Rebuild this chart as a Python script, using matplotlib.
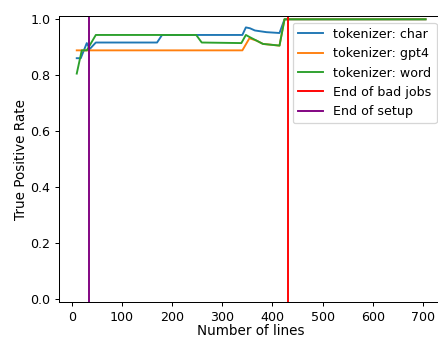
import matplotlib
matplotlib.use("Agg")
import matplotlib.pyplot as plt

# True positive rate per tokenizer as a function of the number of lines seen
char_lines = [10, 18, 30, 36, 48, 170, 180, 340, 347, 355, 365, 388, 414, 424, 705]
char_tpr = [0.861, 0.861, 0.915, 0.894, 0.917, 0.917, 0.944, 0.944, 0.971, 0.968, 0.960, 0.954, 0.951, 1.0, 1.0]

gpt4_lines = [10, 340, 354, 368, 381, 414, 424, 705]
gpt4_tpr = [0.889, 0.889, 0.932, 0.924, 0.912, 0.906, 1.0, 1.0]

word_lines = [10, 20, 30, 48, 248, 259, 338, 347, 355, 368, 381, 414, 424, 705]
word_tpr = [0.806, 0.889, 0.889, 0.944, 0.944, 0.917, 0.915, 0.944, 0.936, 0.924, 0.912, 0.906, 1.0, 1.0]

end_of_bad_jobs = 431
end_of_setup = 35

DPI = 91
fig = plt.figure(figsize=(438 / DPI, 340 / DPI), dpi=DPI)
ax = fig.add_axes([0.1354, 0.1118, 0.8760, 0.8397])

ax.plot(char_lines, char_tpr, color="tab:blue", label="tokenizer: char")
ax.plot(gpt4_lines, gpt4_tpr, color="tab:orange", label="tokenizer: gpt4")
ax.plot(word_lines, word_tpr, color="tab:green", label="tokenizer: word")
ax.axvline(end_of_bad_jobs, color="red", label="End of bad jobs")
ax.axvline(end_of_setup, color="purple", label="End of setup")

ax.set_xlim(-24.75, 739.75)
ax.set_ylim(-0.01, 1.01)
ax.set_xticks(range(0, 701, 100))
ax.set_yticks([0.0, 0.2, 0.4, 0.6, 0.8, 1.0])
ax.set_xlabel("Number of lines", fontsize=10.7, labelpad=0.5)
ax.set_ylabel("True Positive Rate", fontsize=10.7, labelpad=2.0)
ax.legend(loc="upper right")

fig.savefig("out.png", dpi=DPI)
